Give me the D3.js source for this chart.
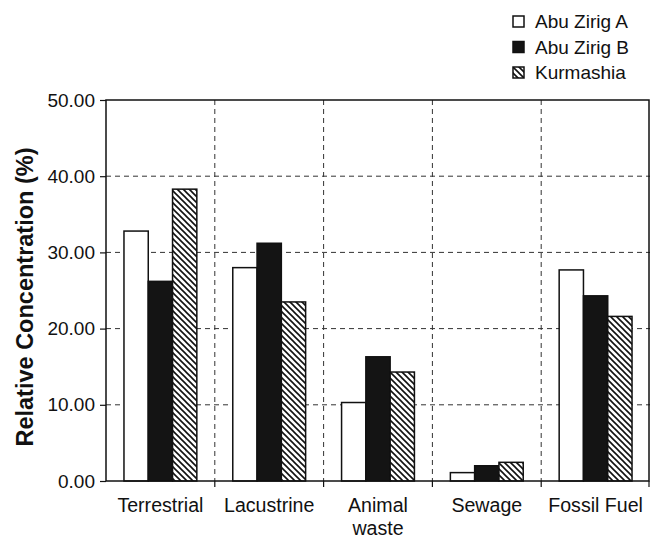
<!DOCTYPE html>
<html>
<head>
<meta charset="utf-8">
<script src="https://cdn.jsdelivr.net/npm/d3@7"></script>
<style>
  body { margin: 0; background: #fff; }
  text { font-family: "Liberation Sans", Arial, sans-serif; fill: #111; }
  .grid line { stroke: #333; stroke-width: 1; stroke-dasharray: 5,4; }
</style>
</head>
<body>
<script>
var w = 651;
var h = 538;

var categories = ["Terrestrial", "Lacustrine", "Animal\nwaste", "Sewage", "Fossil Fuel"];
var seriesNames = ["Abu Zirig A", "Abu Zirig B", "Kurmashia"];
var abuZirigA = [32.8, 28.0, 10.3, 1.1, 27.7];
var abuZirigB = [26.2, 31.2, 16.3, 2.0, 24.3];
var kurmashia = [38.3, 23.5, 14.3, 2.45, 21.6];
var yTicks = [0, 10, 20, 30, 40, 50];

var series = [abuZirigA, abuZirigB, kurmashia];
var fills = ["#fff", "#141414", "url(#hatch)"];

var pLeft = 106, pRight = 650, pTop = 100, pBottom = 481;

var svg = d3.select("body")
    .append("svg")
    .attr("width", w)
    .attr("height", h);

var pat = svg.append("defs").append("pattern")
    .attr("id", "hatch")
    .attr("patternUnits", "userSpaceOnUse")
    .attr("width", 6)
    .attr("height", 6);
pat.append("rect").attr("width", 6).attr("height", 6).attr("fill", "#fff");
pat.append("path")
    .attr("d", "M0,0 L6,6 M-1,5 L1,7 M5,-1 L7,1")
    .attr("stroke", "#111")
    .attr("stroke-width", 1.6);

var xScale = d3.scaleBand()
    .domain(categories)
    .range([pLeft, pRight]);

var xInner = d3.scaleBand()
    .domain(d3.range(series.length))
    .range([0, xScale.bandwidth()])
    .paddingInner(0)
    .paddingOuter(0.74);

var yScale = d3.scaleLinear()
    .domain([0, 50])
    .range([pBottom, pTop]);

// grid
var grid = svg.append("g").attr("class", "grid");
grid.selectAll(".hg")
    .data(yTicks.filter(function(d){ return d > 0 && d < 50; }))
    .enter().append("line")
    .attr("x1", pLeft).attr("x2", pRight)
    .attr("y1", function(d){ return yScale(d); })
    .attr("y2", function(d){ return yScale(d); });
grid.selectAll(".vg")
    .data(categories.slice(1))
    .enter().append("line")
    .attr("x1", function(d){ return xScale(d); })
    .attr("x2", function(d){ return xScale(d); })
    .attr("y1", pTop).attr("y2", pBottom);

// bars
series.forEach(function(vals, si){
    svg.append("g").selectAll("rect")
        .data(vals)
        .enter().append("rect")
        .attr("x", function(d, i){ return xScale(categories[i]) + xInner(si); })
        .attr("width", xInner.bandwidth())
        .attr("y", function(d){ return yScale(d); })
        .attr("height", function(d){ return yScale(0) - yScale(d); })
        .attr("fill", fills[si])
        .attr("stroke", "#111")
        .attr("stroke-width", 1.5);
});

// frame
svg.append("rect")
    .attr("x", pLeft).attr("y", pTop)
    .attr("width", pRight - pLeft - 1).attr("height", pBottom - pTop)
    .attr("fill", "none")
    .attr("stroke", "#111")
    .attr("stroke-width", 1.5);

// y axis
var yAxis = d3.axisLeft(yScale)
    .tickValues(yTicks)
    .tickSize(6)
    .tickPadding(5)
    .tickFormat(d3.format(".2f"));
var gy = svg.append("g")
    .attr("transform", "translate(" + pLeft + ",0)")
    .call(yAxis);
gy.select(".domain").remove();
gy.selectAll("line").attr("stroke", "#111").attr("stroke-width", 1.2);
gy.selectAll("text")
    .style("font-size", "19px")
    .style("font-family", "'Liberation Sans', Arial, sans-serif")
    .attr("fill", "#111");

// x ticks at band boundaries
svg.append("g").selectAll("line")
    .data(categories.slice(1).concat(["__end"]))
    .enter().append("line")
    .attr("x1", function(d){ return d === "__end" ? pRight - 1 : xScale(d); })
    .attr("x2", function(d){ return d === "__end" ? pRight - 1 : xScale(d); })
    .attr("y1", pBottom).attr("y2", pBottom + 6)
    .attr("stroke", "#111").attr("stroke-width", 1.2);

// x labels
var xl = svg.append("g").selectAll("text")
    .data(categories)
    .enter().append("text")
    .attr("text-anchor", "middle")
    .style("font-size", "19.6px")
    .attr("transform", function(d){
        return "translate(" + (xScale(d) + xScale.bandwidth() / 2) + "," + 512 + ")";
    });
xl.selectAll("tspan")
    .data(function(d){ return d.split("\n"); })
    .enter().append("tspan")
    .attr("x", 0)
    .attr("dy", function(d, i){ return i === 0 ? 0 : 23; })
    .text(function(d){ return d; });

// y title
svg.append("text")
    .attr("transform", "translate(33," + 297 + ") rotate(-90)")
    .attr("text-anchor", "middle")
    .style("font-size", "23.5px")
    .style("font-weight", "bold")
    .text("Relative Concentration (%)");

// legend
var legend = svg.append("g").selectAll("g")
    .data(seriesNames)
    .enter().append("g")
    .attr("transform", function(d, i){ return "translate(513," + (16 + i * 25.5) + ")"; });
legend.append("rect")
    .attr("width", 11).attr("height", 11)
    .attr("fill", function(d, i){ return fills[i]; })
    .attr("stroke", "#111")
    .attr("stroke-width", 1.5);
legend.append("text")
    .attr("x", 22).attr("y", 12)
    .style("font-size", "19px")
    .text(function(d){ return d; });
</script>
</body>
</html>
